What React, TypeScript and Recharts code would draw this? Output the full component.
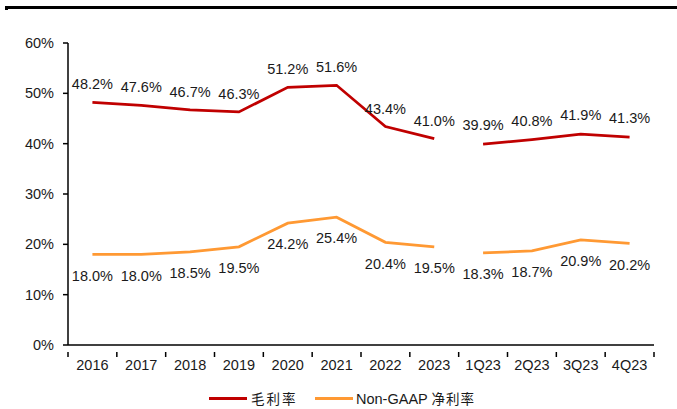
import React from 'react';
import { LineChart, Line, XAxis, YAxis, Legend, LabelList } from 'recharts';

const categories = ['2016', '2017', '2018', '2019', '2020', '2021', '2022', '2023', '1Q23', '2Q23', '3Q23', '4Q23'];
const grossAnnual = [48.2, 47.6, 46.7, 46.3, 51.2, 51.6, 43.4, 41.0, null, null, null, null];
const grossQuarter = [null, null, null, null, null, null, null, null, 39.9, 40.8, 41.9, 41.3];
const netAnnual = [18.0, 18.0, 18.5, 19.5, 24.2, 25.4, 20.4, 19.5, null, null, null, null];
const netQuarter = [null, null, null, null, null, null, null, null, 18.3, 18.7, 20.9, 20.2];
const yTicks = [0, 10, 20, 30, 40, 50, 60];
const seriesNames = ['毛利率', 'Non-GAAP 净利率'];

const RED = '#C00000';
const ORANGE = '#FF9933';
const FONT = '"Liberation Sans", Arial, sans-serif';
const PLOT_W = 586;
const BAND = PLOT_W / categories.length;

const data = categories.map((c, i) => ({
  name: c,
  ga: grossAnnual[i],
  gq: grossQuarter[i],
  na: netAnnual[i],
  nq: netQuarter[i],
}));

const fmt = (v: any) => (v == null ? '' : `${Number(v).toFixed(1)}%`);

const XTick = (props: any) => {
  const { x, y, payload, index } = props;
  const left = x - BAND / 2;
  return (
    <g>
      <line x1={left} x2={left} y1={y - 1} y2={y + 4} stroke="#000" strokeWidth={1.5} />
      {index === categories.length - 1 && (
        <line x1={x + BAND / 2} x2={x + BAND / 2} y1={y - 1} y2={y + 4} stroke="#000" strokeWidth={1.5} />
      )}
      <text x={x} y={y + 17} textAnchor="middle" fontSize={14.5} fontFamily={FONT} fill="#1a1a1a">
        {payload.value}
      </text>
    </g>
  );
};

const LegendContent = () => (
  <div style={{ position: 'relative', width: 677, height: 20, fontFamily: FONT, fontSize: 14.5, color: '#1a1a1a' }}>
    <div style={{ position: 'absolute', left: 209, top: 8, width: 38, height: 3, background: RED }} />
    <span style={{ position: 'absolute', left: 251, top: 0, lineHeight: '18px', fontFamily: '"Noto Sans CJK SC", sans-serif', fontSize: 13.5, letterSpacing: 2 }}>
      {seriesNames[0]}
    </span>
    <div style={{ position: 'absolute', left: 315, top: 8, width: 38, height: 3, background: ORANGE }} />
    <span style={{ position: 'absolute', left: 356, top: 0, lineHeight: '18px', whiteSpace: 'nowrap' }}>
      {seriesNames[1].split(' ')[0]}{' '}
      <span style={{ fontFamily: '"Noto Sans CJK SC", sans-serif', fontSize: 13.5, letterSpacing: 1 }}>
        {seriesNames[1].split(' ')[1]}
      </span>
    </span>
  </div>
);

const labelStyle = { fontSize: 14.5, fontFamily: FONT, fill: '#1a1a1a' };

export default function App() {
  return (
    <div style={{ position: 'absolute', left: 0, top: 0, width: 677, height: 409, background: '#fff' }}>
      <div style={{ position: 'absolute', left: 5, top: 6, width: 672, height: 3, background: '#000' }} />
      <div style={{ position: 'absolute', left: 5, top: 6, width: 3, height: 4, background: '#000' }} />
      <LineChart
        width={677}
        height={409}
        data={data}
        margin={{ top: 43, right: 23, bottom: 0, left: 0 }}
      >
        <XAxis
          dataKey="name"
          height={44}
          padding={{ left: BAND / 2, right: BAND / 2 }}
          axisLine={{ stroke: '#000', strokeWidth: 1.5 }}
          tickLine={false}
          tick={<XTick />}
          interval={0}
        />
        <YAxis
          width={68}
          domain={[0, 60]}
          ticks={yTicks}
          tickFormatter={(v: number) => `${v}%`}
          axisLine={{ stroke: '#000', strokeWidth: 1.5 }}
          tickLine={{ stroke: '#000', strokeWidth: 1.5 }}
          tickSize={5}
          tickMargin={9}
          tick={{ fontSize: 14.5, fontFamily: FONT, fill: '#1a1a1a' }}
          interval={0}
        />
        <Legend verticalAlign="bottom" height={20} wrapperStyle={{ left: 0, width: 677, bottom: 0 }} content={<LegendContent />} />
        <Line dataKey="ga" name={seriesNames[0]} stroke={RED} strokeWidth={2.75} dot={false} isAnimationActive={false} connectNulls={false}>
          <LabelList dataKey="ga" position="top" offset={13} formatter={fmt} style={labelStyle} />
        </Line>
        <Line dataKey="gq" name={seriesNames[0]} legendType="none" stroke={RED} strokeWidth={2.75} dot={false} isAnimationActive={false} connectNulls={false}>
          <LabelList dataKey="gq" position="top" offset={14} formatter={fmt} style={labelStyle} />
        </Line>
        <Line dataKey="na" name={seriesNames[1]} stroke={ORANGE} strokeWidth={2.75} dot={false} isAnimationActive={false} connectNulls={false}>
          <LabelList dataKey="na" position="bottom" offset={16} formatter={fmt} style={labelStyle} />
        </Line>
        <Line dataKey="nq" name={seriesNames[1]} legendType="none" stroke={ORANGE} strokeWidth={2.75} dot={false} isAnimationActive={false} connectNulls={false}>
          <LabelList dataKey="nq" position="bottom" offset={16} formatter={fmt} style={labelStyle} />
        </Line>
      </LineChart>
    </div>
  );
}
